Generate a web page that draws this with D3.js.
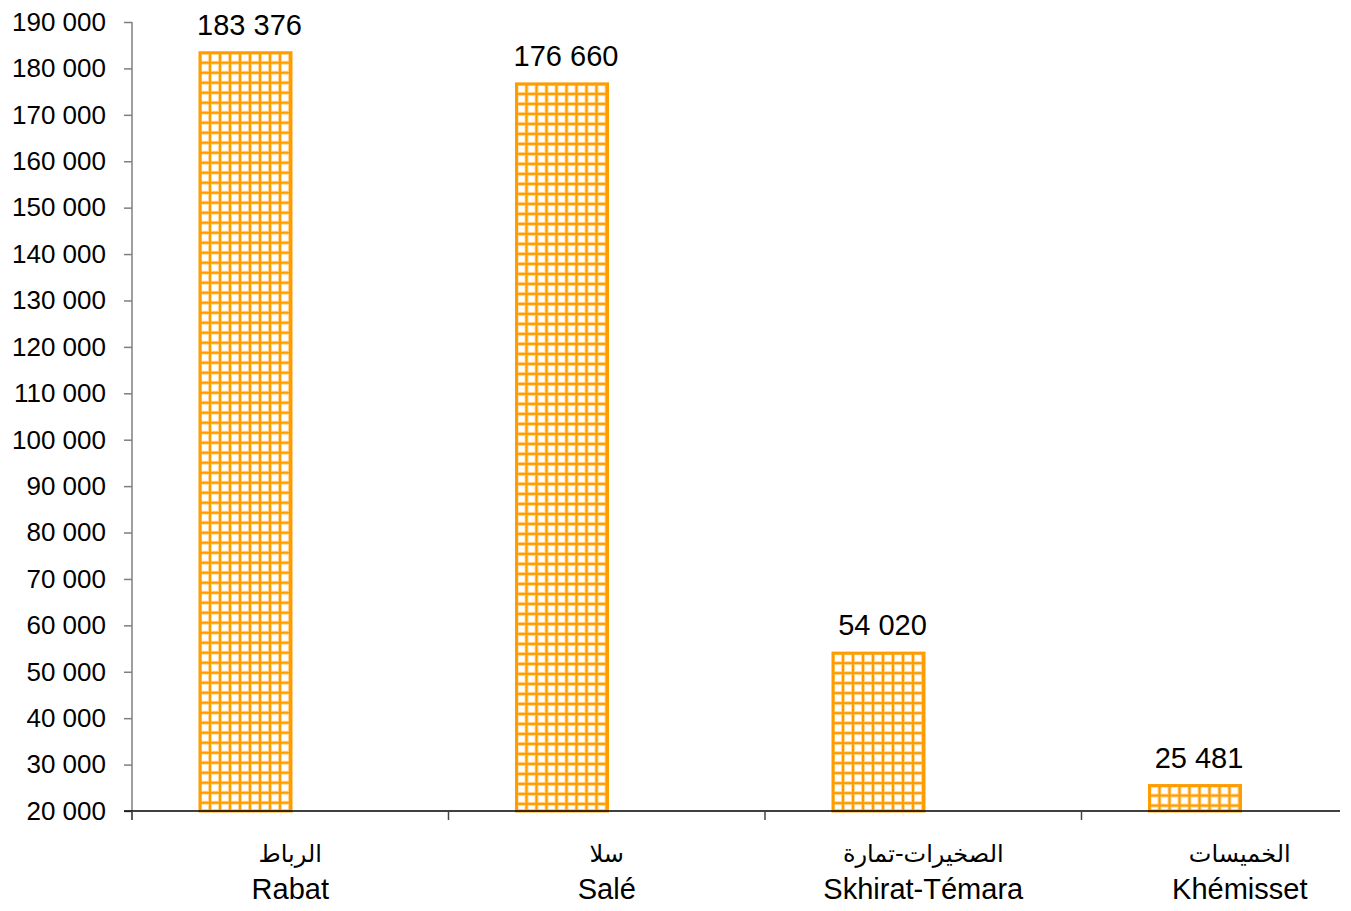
<!DOCTYPE html>
<html>
<head>
<meta charset="utf-8">
<script src="https://cdn.jsdelivr.net/npm/d3@7"></script>
<style>
  body { margin: 0; background: #fff; }
  text { font-family: Arial, "Liberation Sans", "DejaVu Sans", sans-serif; fill: #000; }
</style>
</head>
<body>
<svg id="chart" width="1351" height="911"></svg>
<script>
var categoriesAr = ["الرباط", "سلا", "الصخيرات-تمارة", "الخميسات"];
var categoriesFr = ["Rabat", "Salé", "Skhirat-Témara", "Khémisset"];
var values = [183376, 176660, 54020, 25481];
var yTicks = [20000, 30000, 40000, 50000, 60000, 70000, 80000, 90000, 100000,
  110000, 120000, 130000, 140000, 150000, 160000, 170000, 180000, 190000];

var svg = d3.select("#chart");
var orange = "#ff9c00";

var fmt = function(v) {
    return d3.format(",")(v).replace(/,/g, " ");
};

var x = d3.scaleBand().domain(categoriesFr).range([132, 1398]).padding(0);
var y = d3.scaleLinear().domain([20000, 190000]).range([811, 22]);

// grid pattern for the bars
var defs = svg.append("defs");
var pat = defs.append("pattern")
    .attr("id", "grid")
    .attr("patternUnits", "userSpaceOnUse")
    .attr("x", 5).attr("y", 5)
    .attr("width", 10).attr("height", 10);
pat.append("rect").attr("width", 10).attr("height", 10).attr("fill", "#fff");
pat.append("path")
    .attr("d", "M0,5H10M5,0V10")
    .attr("stroke", "#ffd692").attr("stroke-width", 4);
pat.append("path")
    .attr("d", "M0,5H10M5,0V10")
    .attr("stroke", orange).attr("stroke-width", 2);

// bars
var barOffset = 68, barWidth = 91;
var bars = svg.append("g").selectAll("g.bar")
    .data(values)
    .enter().append("g")
    .attr("class", "bar")
    .attr("transform", function(d, i) {
        return "translate(" + (x(categoriesFr[i]) + barOffset) + "," + y(d) + ")";
    });

bars.append("rect")
    .attr("x", 0).attr("y", 0)
    .attr("width", barWidth)
    .attr("height", function(d) { return y(20000) - y(d); })
    .attr("fill", "url(#grid)")
    .attr("stroke", orange)
    .attr("stroke-width", 3);

// value labels
svg.append("g").selectAll("text")
    .data(values)
    .enter().append("text")
    .attr("x", function(d, i) { return x(categoriesFr[i]) + barOffset + barWidth / 2 + 4; })
    .attr("y", function(d) { return y(d) - 18; })
    .attr("text-anchor", "middle")
    .style("font-size", "29px")
    .text(fmt);

// y axis
var yAxis = svg.append("g")
    .attr("transform", "translate(132,0)")
    .call(d3.axisLeft(y).tickValues(yTicks).tickFormat(fmt).tickSize(8).tickSizeOuter(0).tickPadding(18));
yAxis.select(".domain").attr("stroke", "#7f7f7f").attr("stroke-width", 1.5)
    .attr("d", "M0,22V820");
yAxis.selectAll(".tick line").attr("stroke", "#7f7f7f").attr("stroke-width", 1.5);
yAxis.selectAll(".tick text")
    .style("font-size", "26px")
    .style("font-family", "Arial, 'Liberation Sans', sans-serif")
    .attr("fill", "#000");

// x axis
svg.append("line")
    .attr("x1", 124).attr("x2", 1340)
    .attr("y1", 811).attr("y2", 811)
    .attr("stroke", "#000").attr("stroke-width", 1.5);

svg.append("g").selectAll("line")
    .data(categoriesFr)
    .enter().append("line")
    .attr("x1", function(d) { return x(d); })
    .attr("x2", function(d) { return x(d); })
    .attr("y1", 811).attr("y2", 820)
    .attr("stroke", "#444").attr("stroke-width", 1.5);

// category labels
var labels = svg.append("g").selectAll("g")
    .data(categoriesFr)
    .enter().append("g")
    .attr("transform", function(d) { return "translate(" + (x(d) + x.bandwidth() / 2) + ",0)"; });

labels.append("text")
    .attr("y", 862)
    .attr("text-anchor", "middle")
    .style("font-size", "24px")
    .style("font-family", "'DejaVu Sans', Arial, sans-serif")
    .text(function(d, i) { return categoriesAr[i]; });

labels.append("text")
    .attr("y", 899)
    .attr("text-anchor", "middle")
    .style("font-size", "29px")
    .text(function(d) { return d; });
</script>
</body>
</html>
